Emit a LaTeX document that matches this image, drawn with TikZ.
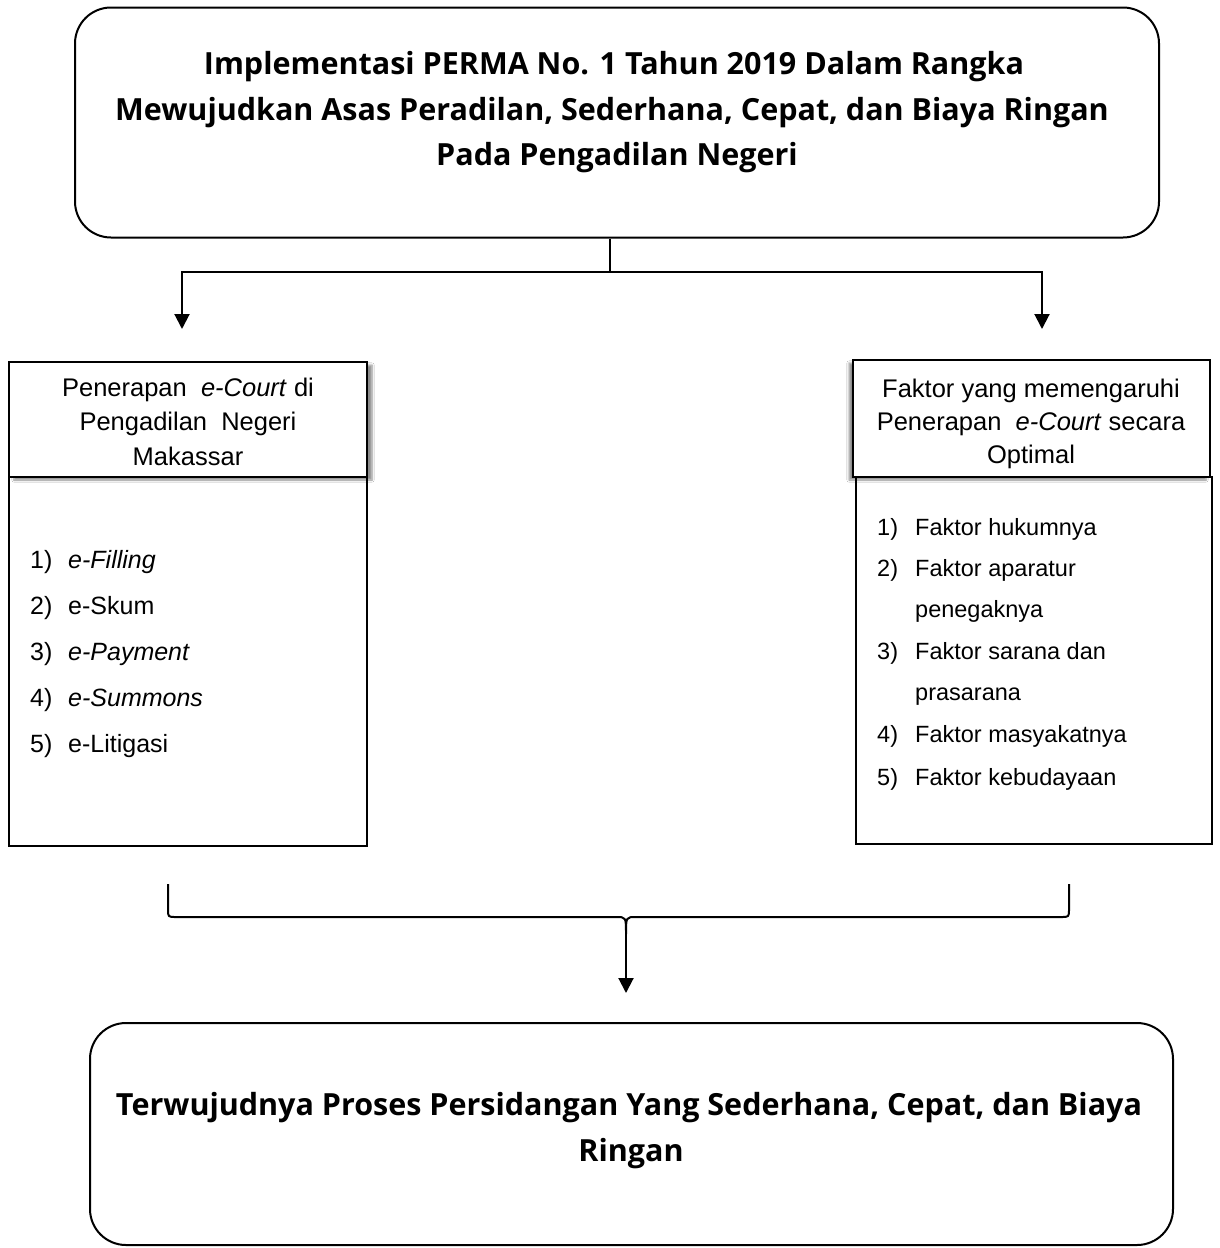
\documentclass[tikz,border=0pt]{standalone}
\usepackage{fontspec}
\setmainfont{Liberation Sans}
\newfontfamily\titlefont{Open Sans}
\usetikzlibrary{arrows.meta,shadows.blur}
\begin{document}
\begin{tikzpicture}[x=1pt,y=-1pt,
  ln/.style={line width=2pt},
  sqbox/.style={draw,line width=2pt,inner sep=0pt},
  rbox/.style={draw,line width=2pt,rounded corners=36pt,inner sep=0pt},
  arr/.style={line width=2pt,-{Triangle[width=15pt,length=15pt]}},
  ttl/.style={anchor=base,inner sep=0pt,font=\titlefont\bfseries\fontsize{30.5}{46}\selectfont},
  hd/.style={anchor=base,inner sep=0pt,font=\fontsize{25.5}{34}\selectfont},
  item/.style={anchor=base west,inner sep=0pt,font=\fontsize{25}{30}\selectfont},
  ritem/.style={anchor=base west,inner sep=0pt,font=\fontsize{23.5}{28}\selectfont},
  shR/.style={blur shadow={shadow xshift=5pt,shadow yshift=-3pt,shadow blur steps=6,shadow opacity=45}},
  shL/.style={blur shadow={shadow xshift=-4pt,shadow yshift=-3pt,shadow blur steps=6,shadow opacity=45}}]
\fill[white] (0,0) rectangle (1219,1248);
\useasboundingbox (0,0) rectangle (1219,1248);

% top box
\node[rbox,minimum width=1084pt,minimum height=230pt] (top) at (617,122.5) {};
\node[ttl] (t1) at (614,74) {Implementasi PERMA No. 1 Tahun 2019 Dalam Rangka};
\node[ttl] (t2) at (612,120) {Mewujudkan Asas Peradilan, Sederhana, Cepat, dan Biaya Ringan};
\node[ttl] (t3) at (617,165) {Pada Pengadilan Negeri};

% left column
\node[sqbox,fill=white,shR,minimum width=358pt,minimum height=115pt] (lh) at (188,419.5) {};
\node[hd] (lh1) at (188,396) {Penerapan \ \textit{e-Court} di};
\node[hd] (lh2) at (188,430) {Pengadilan \ Negeri};
\node[hd] (lh3) at (188,465) {Makassar};
\node[sqbox,minimum width=358pt,minimum height=369pt] (lb) at (188,661.5) {};
\node[item] (l1n) at (30,568) {1)};
\node[item] (l1) at (68,568) {\textit{e-Filling}};
\node[item] (l2n) at (30,614) {2)};
\node[item] (l2) at (68,614) {e-Skum};
\node[item] (l3n) at (30,660) {3)};
\node[item] (l3) at (68,660) {\textit{e-Payment}};
\node[item] (l4n) at (30,706) {4)};
\node[item] (l4) at (68,706) {\textit{e-Summons}};
\node[item] (l5n) at (30,752) {5)};
\node[item] (l5) at (68,752) {e-Litigasi};

% right column
\node[sqbox,fill=white,shL,minimum width=357pt,minimum height=117pt] (rh) at (1031.5,418.5) {};
\node[hd] (rh1) at (1031,397) {Faktor yang memengaruhi};
\node[hd] (rh2) at (1031,430) {Penerapan \ \textit{e-Court} secara};
\node[hd] (rh3) at (1031,463) {Optimal};
\node[sqbox,minimum width=356pt,minimum height=367pt] (rb) at (1034,660.5) {};
\node[ritem] (r1n) at (877,535) {1)};
\node[ritem] (r1) at (915,535) {Faktor hukumnya};
\node[ritem] (r2n) at (877,576) {2)};
\node[ritem] (r2) at (915,576) {Faktor aparatur};
\node[ritem] (r2b) at (915,617) {penegaknya};
\node[ritem] (r3n) at (877,659) {3)};
\node[ritem] (r3) at (915,659) {Faktor sarana dan};
\node[ritem] (r3b) at (915,700) {prasarana};
\node[ritem] (r4n) at (877,742) {4)};
\node[ritem] (r4) at (915,742) {Faktor masyakatnya};
\node[ritem] (r5n) at (877,785) {5)};
\node[ritem] (r5) at (915,785) {Faktor kebudayaan};

% bottom box
\node[rbox,minimum width=1083pt,minimum height=222pt] (bot) at (631.5,1134) {};
\node[ttl] (b1) at (629,1115) {Terwujudnya Proses Persidangan Yang Sederhana, Cepat, dan Biaya};
\node[ttl] (b2) at (631,1161) {Ringan};

% connectors top
\coordinate (j) at (610,272);
\coordinate (la) at (182,329);
\coordinate (ra) at (1042,329);
\draw[ln] (j |- top.south) -- (j);
\draw[arr] (j) -| (la);
\draw[arr] (j) -| (ra);

% brace
\coordinate (bl) at (168,884);
\coordinate (br) at (1069,884);
\coordinate (bt) at (626,934);
\coordinate (be) at (626,993);
\draw[ln,line join=round] (bl) -- (168,909) .. controls (168,917) .. (176,917) -- (616,917)
  .. controls (626,917) .. (bt) .. controls (626,917) .. (636,917) -- (1061,917)
  .. controls (1069,917) .. (1069,909) -- (br);
\draw[arr] (bt) -- (be);
\end{tikzpicture}
\end{document}
